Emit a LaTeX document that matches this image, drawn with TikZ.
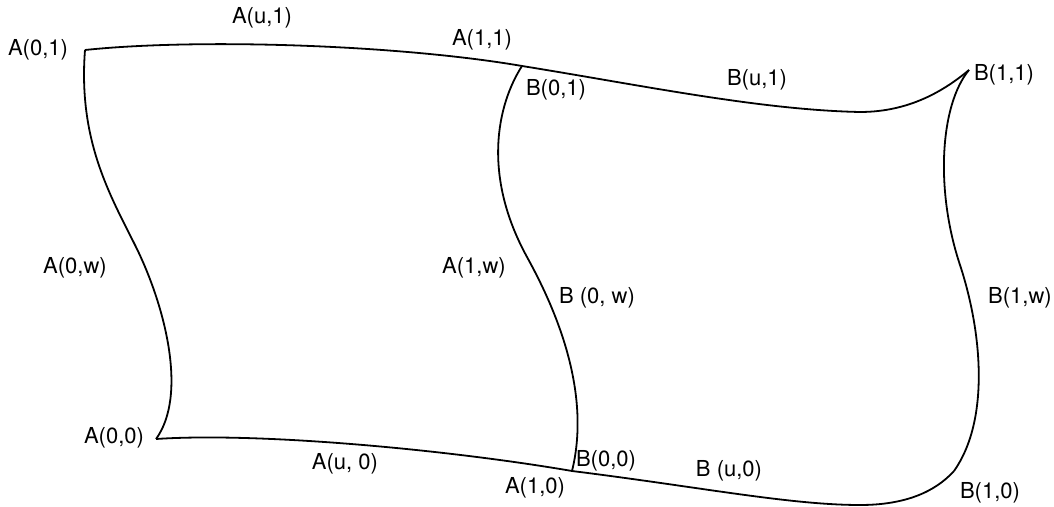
\documentclass[tikz,border=0pt]{standalone}
\usepackage{fontspec}
\setmainfont{TeX Gyre Heros}
\begin{document}
\begin{tikzpicture}[x=0.5pt,y=-0.5pt,
  edge/.style={line width=0.9pt, line join=round},
  lbl/.style={font=\fontsize{11}{13}\selectfont, inner sep=0pt}]
\useasboundingbox (0,0) rectangle (1054,507);
% corners
\coordinate (A01) at (85,50);
\coordinate (A11) at (522,66);
\coordinate (A00) at (156,439);
\coordinate (A10) at (572,471);
\coordinate (B11) at (969,70);
\coordinate (B10) at (954,471);
\coordinate (AL) at (135,245);
\coordinate (M) at (527,257);
\coordinate (BR) at (960,265);
\coordinate (BT) at (860,112);
\coordinate (BB) at (860,505);
% patch A
\draw[edge] (A01) .. controls (200,38) and (400,45) .. (A11);
\draw[edge] (A01) .. controls (78,140) and (110,195) .. (AL)
                  .. controls (165,305) and (188,395) .. (A00);
\draw[edge] (A00) .. controls (260,432) and (450,450) .. (A10);
\draw[edge] (A11) .. controls (497,105) and (482,175) .. (M)
                  .. controls (554,306) and (592,390) .. (A10);
% patch B
\draw[edge] (A11) .. controls (640,85) and (760,110) .. (BT)
                  .. controls (910,112) and (945,90) .. (B11);
\draw[edge] (B11) .. controls (940,105) and (935,190) .. (BR)
                  .. controls (982,332) and (990,420) .. (B10);
\draw[edge] (A10) .. controls (700,487) and (790,505) .. (BB)
                  .. controls (905,505) and (935,492) .. (B10);
% labels
\node[lbl] (tA01) at (38,50) {A(0,1)};
\node[lbl] (tAu1) at (262,18) {A(u,1)};
\node[lbl] (tA11) at (482,40) {A(1,1)};
\node[lbl] (tB01) at (556,90) {B(0,1)};
\node[lbl] (tBu1) at (757,80) {B(u,1)};
\node[lbl] (tB11) at (1004,75) {B(1,1)};
\node[lbl] (tA0w) at (75,268) {A(0,w)};
\node[lbl] (tA1w) at (474,268) {A(1,w)};
\node[lbl] (tB0w) at (597,298) {B (0, w)};
\node[lbl] (tB1w) at (1020,298) {B(1,w)};
\node[lbl] (tA00) at (114,438) {A(0,0)};
\node[lbl] (tAu0) at (345,464) {A(u, 0)};
\node[lbl] (tA10) at (535,488) {A(1,0)};
\node[lbl] (tB00) at (606,461) {B(0,0)};
\node[lbl] (tBu0) at (729,471) {B (u,0)};
\node[lbl] (tB10) at (990,493) {B(1,0)};
\end{tikzpicture}
\end{document}
